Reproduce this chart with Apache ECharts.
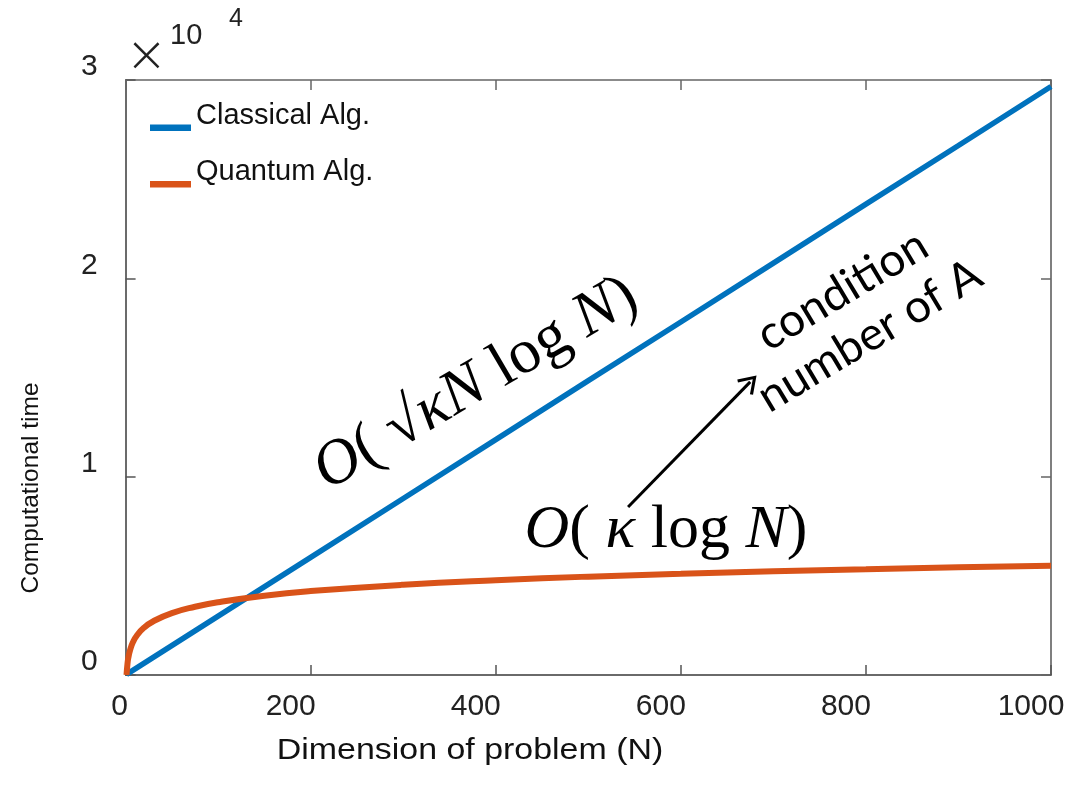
<!DOCTYPE html>
<html>
<head>
<meta charset="utf-8">
<script src="https://cdn.jsdelivr.net/npm/echarts@6/dist/echarts.min.js"></script>
<style>
html,body{margin:0;padding:0;background:#fff;}
#chart{width:1086px;height:786px;}
</style>
</head>
<body>
<div id="chart"></div>
<script>
// ---- data ----
const classicalN = [1, 100, 200, 300, 400, 500, 600, 700, 800, 900, 1000];
const classicalT = [30, 2970, 5930, 8900, 11870, 14840, 17800, 20770, 23740, 26700, 29670];
const quantumN = [1, 2, 3, 5, 8, 12, 20, 30, 50, 75, 100, 150, 200, 300, 400, 500, 600, 700, 800, 900, 1000];
const quantumT = [0, 550, 880, 1280, 1660, 1980, 2390, 2710, 3120, 3440, 3670, 4000, 4230, 4550, 4780, 4960, 5100, 5230, 5330, 5430, 5510];
const seriesNames = ['Classical Alg.', 'Quantum Alg.'];
const yTickLabels = ['0', '1', '2', '3'];
const arrowFrom = [543, 8470];
const arrowTo = [675, 14780];

const toPairs = (xs, ys) => xs.map((x, i) => [x, ys[i]]);

const chart = echarts.init(document.getElementById('chart'), null, {renderer: 'canvas'});
const FONT = 'Liberation Sans';
const axisColor = '#3a3a3a';
// legend swatch: a line sitting at the text baseline (tiny invisible point keeps the box height)
const legendIcon = 'path://M0,0L0.01,0L0.01,0.01Z M0,24L41,24L41,30.5L0,30.5Z';

const option = {
  animation: false,
  backgroundColor: '#fff',
  grid: {left: 125.6, right: 35, top: 80, bottom: 111, show: false},
  legend: {
    orient: 'vertical',
    left: 150, top: 100.5, padding: 0,
    itemWidth: 41, itemHeight: 30.5, itemGap: 26,
    icon: legendIcon,
    selectedMode: false,
    data: seriesNames,
    textStyle: {fontFamily: FONT, fontSize: 29, color: '#111'}
  },
  xAxis: [{
    type: 'value', min: 0, max: 1000, interval: 200,
    axisLine: {show: true, onZero: false, lineStyle: {color: axisColor, width: 1.5}},
    axisTick: {show: true, inside: true, length: 10, lineStyle: {color: '#555', width: 1.5}},
    splitLine: {show: false},
    axisLabel: {
      margin: 17,
      formatter: v => v === 0 ? '{z|0}' : '{n|' + v + '}',
      rich: {
        z: {fontFamily: FONT, fontSize: 30, color: '#222', padding: [0, 12, 0, 0]},
        n: {fontFamily: FONT, fontSize: 30, color: '#222', padding: [0, 40, 0, 0]}
      }
    }
  }, {
    type: 'value', min: 0, max: 1000, interval: 200, position: 'top',
    axisLine: {show: true, onZero: false, lineStyle: {color: '#666', width: 1.5}},
    axisTick: {show: true, inside: true, length: 10, lineStyle: {color: '#666', width: 1.5}},
    axisLabel: {show: false}, splitLine: {show: false}
  }],
  yAxis: [{
    type: 'value', min: 0, max: 30000, interval: 10000,
    axisLine: {show: true, onZero: false, lineStyle: {color: axisColor, width: 1.5}},
    axisTick: {show: true, inside: true, length: 10, lineStyle: {color: '#555', width: 1.5}},
    splitLine: {show: false},
    axisLabel: {
      margin: 28,
      formatter: v => '{y|' + yTickLabels[Math.round(v / 10000)] + '}',
      rich: {y: {fontFamily: FONT, fontSize: 30, color: '#222', padding: [0, 0, 26, 0]}}
    }
  }, {
    type: 'value', min: 0, max: 30000, interval: 10000, position: 'right',
    axisLine: {show: true, onZero: false, lineStyle: {color: '#555', width: 1.5}},
    axisTick: {show: true, inside: true, length: 10, lineStyle: {color: '#666', width: 1.5}},
    axisLabel: {show: false}, splitLine: {show: false}
  }],
  series: [{
    name: seriesNames[0], type: 'line', xAxisIndex: 0, yAxisIndex: 0,
    data: toPairs(classicalN, classicalT),
    showSymbol: false, symbol: 'none', smooth: false,
    color: '#0072BD',
    lineStyle: {width: 5.5, color: '#0072BD'},
    silent: true,
    markLine: {
      silent: true,
      symbol: ['none', 'path://M10,0 L20,15 L17.6,16.6 L10,5 L2.4,16.6 L0,15 Z'],
      symbolSize: [22, 18],
      label: {show: false},
      lineStyle: {color: '#000', width: 3, type: 'solid'},
      emphasis: {disabled: true},
      data: [[{coord: arrowFrom}, {coord: arrowTo}]]
    }
  }, {
    name: seriesNames[1], type: 'line', xAxisIndex: 0, yAxisIndex: 0,
    data: toPairs(quantumN, quantumT),
    showSymbol: false, symbol: 'none', smooth: true,
    color: '#D95319',
    lineStyle: {width: 6, color: '#D95319'},
    silent: true
  }],
  graphic: [
    // x10^4 multiplier
    {type: 'text', x: 146.5, y: 58, style: {text: '×', fontFamily: 'DejaVu Sans', fontWeight: 200, fontSize: 50, fill: '#222', align: 'center', verticalAlign: 'middle'}},
    {type: 'text', x: 170, y: 36, style: {text: '10', fontFamily: FONT, fontSize: 29, fill: '#222', align: 'left', verticalAlign: 'middle'}},
    {type: 'text', x: 229, y: 19, style: {text: '4', fontFamily: FONT, fontSize: 25, fill: '#222', align: 'left', verticalAlign: 'middle'}},
    // axis names
    {type: 'text', x: 31, y: 488, rotation: Math.PI / 2, style: {text: 'Computational time', fontFamily: FONT, fontSize: 24.5, fill: '#111', align: 'center', verticalAlign: 'middle'}},
    {type: 'text', x: 470, y: 751, scaleX: 1.17, style: {text: 'Dimension of problem (N)', fontFamily: FONT, fontSize: 29, fill: '#111', align: 'center', verticalAlign: 'middle'}},
    // complexity annotations
    {type: 'text', x: 476, y: 384, rotation: 30.5 * Math.PI / 180, style: {
      text: '{i|O}{r|( }{r|√}{i|κN}{r| log }{i|N}{r|)}',
      align: 'center', verticalAlign: 'middle',
      rich: {
        i: {fontFamily: 'Liberation Serif', fontSize: 63, fontStyle: 'italic', fill: '#000'},
        r: {fontFamily: 'Liberation Serif', fontSize: 63, fill: '#000'}
      }
    }},
    {type: 'text', x: 666, y: 531, style: {
      text: '{i|O}{r|( }{i|κ}{r| log }{i|N}{r|)}',
      align: 'center', verticalAlign: 'middle',
      rich: {
        i: {fontFamily: 'Liberation Serif', fontSize: 62, fontStyle: 'italic', fill: '#000'},
        r: {fontFamily: 'Liberation Serif', fontSize: 62, fill: '#000'}
      }
    }},
    {type: 'text', x: 856, y: 313, rotation: 31 * Math.PI / 180, style: {
      text: 'condition\nnumber of A', fontFamily: 'Lato', fontSize: 46, lineHeight: 53,
      fill: '#000', align: 'center', verticalAlign: 'middle'
    }}
  ]
};
chart.setOption(option);
</script>
</body>
</html>
